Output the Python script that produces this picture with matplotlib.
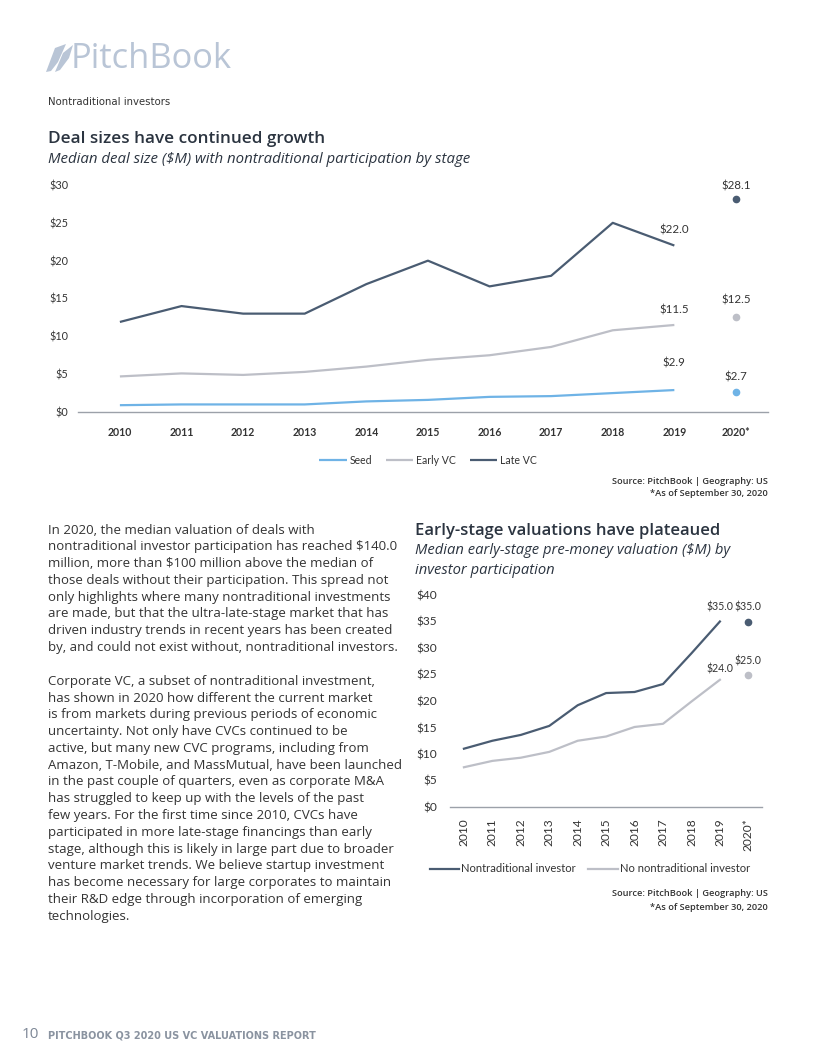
import matplotlib
matplotlib.use("Agg")
import matplotlib.pyplot as plt
from matplotlib.patches import Polygon

# ---------------- data ----------------
years1 = ["2010", "2011", "2012", "2013", "2014", "2015", "2016", "2017", "2018", "2019", "2020*"]
seed = [0.9, 1.0, 1.0, 1.0, 1.4, 1.6, 2.0, 2.1, 2.5, 2.9]
early_vc = [4.7, 5.1, 4.9, 5.3, 6.0, 6.9, 7.5, 8.6, 10.8, 11.5]
late_vc = [11.9, 14.0, 13.0, 13.0, 16.9, 20.0, 16.6, 18.0, 25.0, 22.0]
seed_2020 = 2.7
early_2020 = 12.5
late_2020 = 28.1
yticks1 = [0, 5, 10, 15, 20, 25, 30]

years2 = ["2010", "2011", "2012", "2013", "2014", "2015", "2016", "2017", "2018", "2019", "2020*"]
nontrad = [11.0, 12.5, 13.6, 15.3, 19.2, 21.5, 21.7, 23.2, 29.0, 35.0]
no_nontrad = [7.5, 8.7, 9.3, 10.4, 12.5, 13.3, 15.1, 15.7, 19.9, 24.0]
nontrad_2020 = 35.0
no_nontrad_2020 = 25.0
yticks2 = [0, 5, 10, 15, 20, 25, 30, 35, 40]

body_lines = [
    "In 2020, the median valuation of deals with",
    "nontraditional investor participation has reached $140.0",
    "million, more than $100 million above the median of",
    "those deals without their participation. This spread not",
    "only highlights where many nontraditional investments",
    "are made, but that the ultra-late-stage market that has",
    "driven industry trends in recent years has been created",
    "by, and could not exist without, nontraditional investors.",
    "",
    "Corporate VC, a subset of nontraditional investment,",
    "has shown in 2020 how different the current market",
    "is from markets during previous periods of economic",
    "uncertainty. Not only have CVCs continued to be",
    "active, but many new CVC programs, including from",
    "Amazon, T-Mobile, and MassMutual, have been launched",
    "in the past couple of quarters, even as corporate M&A",
    "has struggled to keep up with the levels of the past",
    "few years. For the first time since 2010, CVCs have",
    "participated in more late-stage financings than early",
    "stage, although this is likely in large part due to broader",
    "venture market trends. We believe startup investment",
    "has become necessary for large corporates to maintain",
    "their R&D edge through incorporation of emerging",
    "technologies.",
]

# ---------------- styles ----------------
C_SEED = "#6FB3E6"
C_EARLY = "#BDBFC7"
C_LATE = "#4A5C72"
C_AXIS = "#9CA1A9"
C_TEXT = "#333333"
C_TITLE = "#2B3440"
C_LOGO = "#B9C5D6"
FIG_W, FIG_H = 816, 1056
BODY = "Open Sans"
TICK = "Lato"

fig = plt.figure(figsize=(FIG_W / 100, FIG_H / 100), dpi=100)


def P(x, y):
    return x / FIG_W, 1 - y / FIG_H


def ftext(x, y, s, **kw):
    kw.setdefault("family", BODY)
    kw.setdefault("color", C_TEXT)
    fig.text(*P(x, y), s, **kw)


# ---------------- header / logo ----------------
logo_ax = fig.add_axes([0, 0, 1, 1], zorder=-1)
logo_ax.set_xlim(0, FIG_W)
logo_ax.set_ylim(FIG_H, 0)
logo_ax.axis("off")
logo_ax.add_patch(Polygon([(46, 72), (55, 48), (66, 44), (58, 62), (51, 71)], closed=True, color=C_LOGO, lw=0))
logo_ax.add_patch(Polygon([(55, 72), (63, 53), (73, 45), (69, 58), (60, 70)], closed=True, color=C_LOGO, lw=0))
ftext(71, 59, "PitchBook", fontsize=24.8, color=C_LOGO, va="center", ha="left")
ftext(48, 102, "Nontraditional investors", fontsize=7.3, color="#333333", va="center", ha="left",
      family="DejaVu Sans")

# ---------------- chart 1 ----------------
ftext(48, 139, "Deal sizes have continued growth", fontsize=12.3, color=C_TITLE, fontweight="semibold",
      va="center")
ftext(48, 159, "Median deal size ($M) with nontraditional participation by stage", fontsize=10.8,
      style="italic", color=C_TITLE, va="center")

x1 = list(range(len(years1)))
ax1 = fig.add_axes([78 / FIG_W, 1 - 412 / FIG_H, 690 / FIG_W, 227 / FIG_H])
ax1.set_xlim(-0.68, 10.52)
ax1.set_ylim(0, 30)
ax1.plot(x1[:10], seed, color=C_SEED, lw=1.6, label="Seed", clip_on=False, solid_capstyle="butt")
ax1.plot(x1[:10], early_vc, color=C_EARLY, lw=1.6, label="Early VC", clip_on=False, solid_capstyle="butt")
ax1.plot(x1[:10], late_vc, color=C_LATE, lw=1.6, label="Late VC", clip_on=False, solid_capstyle="butt")
ax1.plot([x1[10]], [seed_2020], "o", color=C_SEED, ms=4.5, clip_on=False)
ax1.plot([x1[10]], [early_2020], "o", color=C_EARLY, ms=4.5, clip_on=False)
ax1.plot([x1[10]], [late_2020], "o", color=C_LATE, ms=4.5, clip_on=False)

ann1 = [
    (x1[9], late_vc[9], 16), (x1[9], early_vc[9], 15), (x1[9], seed[9], 27),
    (x1[10], late_2020, 13), (x1[10], early_2020, 17), (x1[10], seed_2020, 15),
]
for xx, yy, off in ann1:
    ax1.annotate(f"${yy:.1f}", xy=(xx, yy), xytext=(0, off), textcoords="offset pixels",
                 ha="center", va="center", fontsize=8.3, family=TICK, color=C_TEXT)

for s in ["top", "right", "left"]:
    ax1.spines[s].set_visible(False)
ax1.spines["bottom"].set_color(C_AXIS)
ax1.spines["bottom"].set_linewidth(1.0)
ax1.set_yticks(yticks1)
ax1.set_yticklabels([f"${v}" for v in yticks1], family=TICK, fontsize=7.8, color=C_TEXT)
ax1.set_xticks(x1)
ax1.set_xticklabels(years1, family=TICK, fontsize=7.6, color=C_TEXT, fontweight="bold")
ax1.tick_params(axis="y", length=0, pad=7)
ax1.tick_params(axis="x", length=0, pad=11)
ax1.patch.set_alpha(0)

fig.legend(handles=ax1.get_lines()[:3], loc="center", bbox_to_anchor=P(428, 460), ncol=3, frameon=False,
           prop={"family": TICK, "size": 7.6}, handlelength=2.6, handletextpad=0.25, columnspacing=1.3,
           labelcolor=C_TEXT)

ftext(768, 482, "Source: PitchBook | Geography: US", fontsize=6.7, ha="right", va="center",
      fontweight="semibold")
ftext(768, 494, "*As of September 30, 2020", fontsize=6.7, ha="right", va="center", fontweight="semibold")

# ---------------- body text ----------------
for i, line in enumerate(body_lines):
    ftext(48, 530 + i * 16.8, line, fontsize=9.5, va="center", ha="left")

# ---------------- chart 2 ----------------
ftext(415, 531, "Early-stage valuations have plateaued", fontsize=12.0, color=C_TITLE, fontweight="semibold",
      va="center")
ftext(415, 551, "Median early-stage pre-money valuation ($M) by", fontsize=10.6, style="italic",
      color=C_TITLE, va="center")
ftext(415, 571, "investor participation", fontsize=10.6, style="italic", color=C_TITLE, va="center")

x2 = list(range(len(years2)))
ax2 = fig.add_axes([450 / FIG_W, 1 - 807 / FIG_H, 312 / FIG_W, 212 / FIG_H])
ax2.set_xlim(-0.49, 10.48)
ax2.set_ylim(0, 40)
ax2.plot(x2[:10], nontrad, color=C_LATE, lw=1.6, label="Nontraditional investor", clip_on=False)
ax2.plot(x2[:10], no_nontrad, color=C_EARLY, lw=1.6, label="No nontraditional investor", clip_on=False)
ax2.plot([x2[10]], [nontrad_2020], "o", color=C_LATE, ms=4.5, clip_on=False)
ax2.plot([x2[10]], [no_nontrad_2020], "o", color=C_EARLY, ms=4.5, clip_on=False)

ann2 = [
    (x2[9], nontrad[9], 14), (x2[9], no_nontrad[9], 11),
    (x2[10], nontrad_2020, 14), (x2[10], no_nontrad_2020, 13),
]
for xx, yy, off in ann2:
    ax2.annotate(f"${yy:.1f}", xy=(xx, yy), xytext=(0, off), textcoords="offset pixels",
                 ha="center", va="center", fontsize=7.6, family=TICK, color=C_TEXT)

for s in ["top", "right", "left"]:
    ax2.spines[s].set_visible(False)
ax2.spines["bottom"].set_color(C_AXIS)
ax2.spines["bottom"].set_linewidth(1.0)
ax2.set_yticks(yticks2)
ax2.set_yticklabels([f"${v}" for v in yticks2], family=TICK, fontsize=8.6, color=C_TEXT)
ax2.set_xticks(x2)
ax2.set_xticklabels(years2, family=TICK, fontsize=8.6, color=C_TEXT, rotation=90, va="top")
ax2.tick_params(axis="y", length=0, pad=9)
ax2.tick_params(axis="x", length=0, pad=8)
ax2.patch.set_alpha(0)

fig.legend(handles=ax2.get_lines()[:2], loc="center", bbox_to_anchor=P(590, 869), ncol=2, frameon=False,
           prop={"family": TICK, "size": 8.1}, handlelength=2.6, handletextpad=0.2, columnspacing=1.1,
           labelcolor=C_TEXT)

ftext(768, 893, "Source: PitchBook | Geography: US", fontsize=6.7, ha="right", va="center",
      fontweight="semibold")
ftext(768, 907, "*As of September 30, 2020", fontsize=6.7, ha="right", va="center", fontweight="semibold")

# ---------------- footer ----------------
ftext(22, 1035, "10", fontsize=11, color="#7D8796", va="center")
ftext(48, 1036, "PITCHBOOK Q3 2020 US VC VALUATIONS REPORT", fontsize=7.0, color="#8A93A0", va="center",
      family="DejaVu Sans", fontweight="bold")

fig.savefig("out.png", dpi=100)
